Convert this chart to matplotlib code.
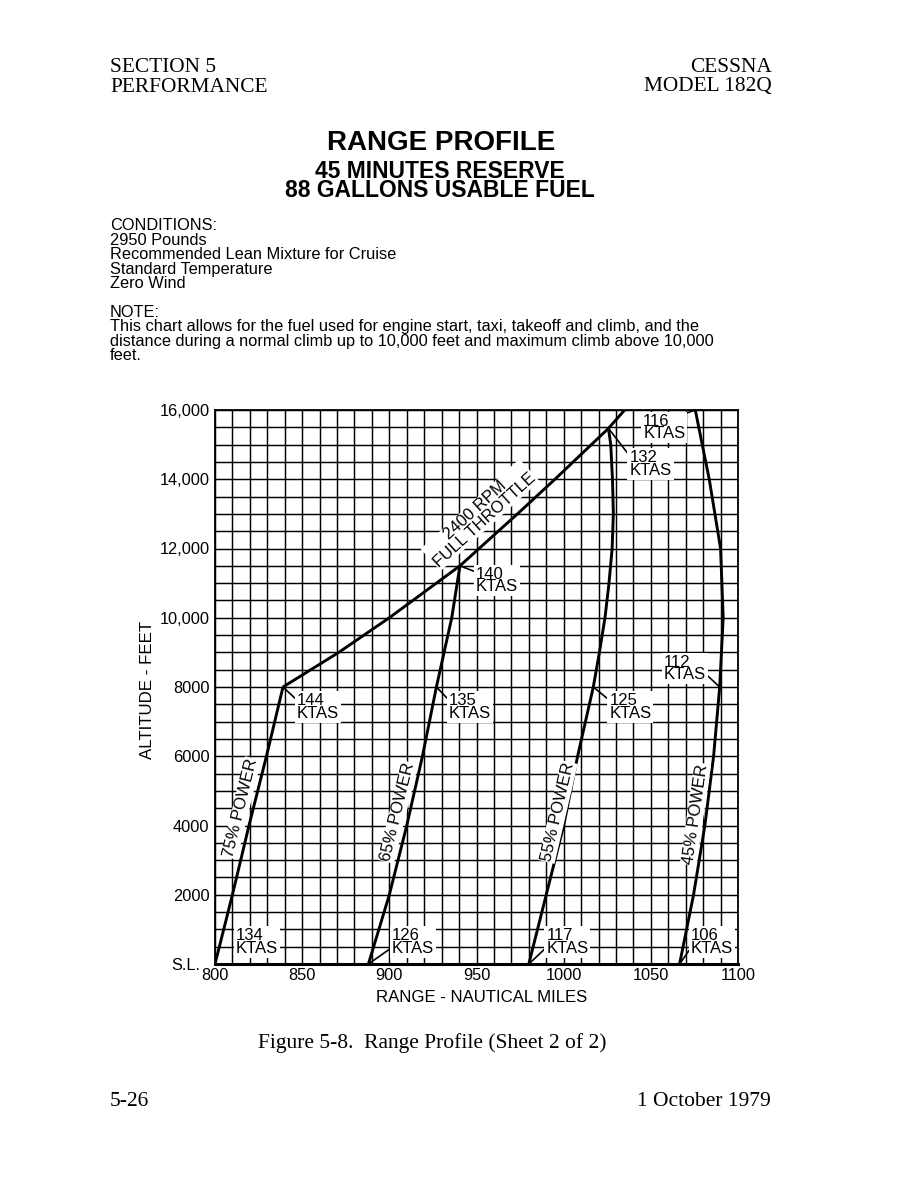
import numpy as np
import matplotlib
matplotlib.use("Agg")
import matplotlib.pyplot as plt

plt.rcParams['font.family'] = ['Liberation Sans', 'DejaVu Sans']

W, H = 918, 1188

# ---------------- data (range in nautical miles, altitude in feet) ----------------
alt_75 = [0, 2000, 4000, 6000, 8000]
rng_75 = [800, 810, 819.5, 829.5, 839]

alt_65 = [0, 2000, 4000, 6000, 8000, 10000, 11500]
rng_65 = [888, 900, 910, 919, 927, 935.8, 940.5]

alt_55 = [0, 2000, 4000, 6000, 8000, 9000, 10000, 11000, 12000, 13000, 14000, 15000, 15470]
rng_55 = [980, 990, 1000, 1008, 1017, 1020.5, 1023.7, 1026, 1027.8, 1028.5, 1028, 1027, 1025.7]

alt_45 = [0, 2000, 4000, 6000, 8000, 10000, 12000, 14000, 16000]
rng_45 = [1066.5, 1074.5, 1081, 1086, 1089.5, 1091.5, 1090, 1083.5, 1075.5]

alt_ft = [8000, 9000, 10000, 11500, 13000, 14000, 15470, 16000]
rng_ft = [839, 871, 900, 940.5, 973.5, 995, 1025.7, 1035]

x_ticks = [800, 850, 900, 950, 1000, 1050, 1100]
x_tick_labels = ['800', '850', '900', '950', '1000', '1050', '1100']
y_ticks = [0, 2000, 4000, 6000, 8000, 10000, 12000, 14000, 16000]
y_tick_labels = ['', '2000', '4000', '6000', '8000', '10,000', '12,000', '14,000', '16,000']

power_labels = ['75% POWER', '65% POWER', '55% POWER', '45% POWER']
ktas_top = ['144', '135', '125', '112']
ktas_sl = ['134', '126', '117', '106']
ktas_climb = ['140', '132', '116']

header_left = ['SECTION 5', 'PERFORMANCE']
header_right = ['CESSNA', 'MODEL 182Q']
title = 'RANGE PROFILE'
subtitles = ['45 MINUTES RESERVE', '88 GALLONS USABLE FUEL']
conditions = ['CONDITIONS:', '2950 Pounds', 'Recommended Lean Mixture for Cruise',
              'Standard Temperature', 'Zero Wind']
note = ['NOTE:',
        'This chart allows for the fuel used for engine start, taxi, takeoff and climb, and the',
        'distance during a normal climb up to 10,000 feet and maximum climb above 10,000',
        'feet.']
caption = 'Figure 5-8.  Range Profile (Sheet 2 of 2)'
page = '5-26'
date = '1 October 1979'

# ---------------- figure ----------------
fig = plt.figure(figsize=(W / 100, H / 100), dpi=100)


def fx(x):
    return x / W


def fy(y):
    return 1 - y / H


serif = ['Liberation Serif', 'DejaVu Serif']
fig.text(fx(110), fy(68), header_left[0], family=serif, fontsize=15.4, va='center')
fig.text(fx(110), fy(87), header_left[1], family=serif, fontsize=15.4, va='center')
fig.text(fx(772), fy(68), header_right[0], family=serif, fontsize=15.4, va='center', ha='right')
fig.text(fx(772), fy(87), header_right[1], family=serif, fontsize=15.4, va='center', ha='right')

fig.text(fx(441), fy(143.5), title, fontsize=20, weight='bold', ha='center', va='center')
fig.text(fx(440), fy(181), '\n'.join(subtitles), fontsize=16.5, weight='bold', ha='center',
         va='center', multialignment='center', linespacing=0.82)

for i, line in enumerate(conditions):
    fig.text(fx(110), fy(226 + i * 14.4), line, fontsize=11.8, va='center')
for i, line in enumerate(note):
    fig.text(fx(110), fy(312.5 + i * 14.4), line, fontsize=11.8, va='center')

fig.text(fx(258), fy(1043), caption, family=serif, fontsize=15.5, va='center')
fig.text(fx(110), fy(1102), page, family=serif, fontsize=15.5, va='center')
fig.text(fx(771), fy(1102), date, family=serif, fontsize=15.5, va='center', ha='right')

# ---------------- chart ----------------
ax = fig.add_axes([fx(215), fy(964), (738 - 215) / W, (964 - 410) / H])
ax.set_xlim(800, 1100)
ax.set_ylim(0, 16000)
ax.set_xticks(x_ticks)
ax.set_xticklabels(x_tick_labels)
ax.set_xticks(np.arange(800, 1101, 10), minor=True)
ax.set_yticks(y_ticks)
ax.set_yticklabels(y_tick_labels)
ax.set_yticks(np.arange(0, 16001, 500), minor=True)
ax.set_axisbelow(True)
ax.grid(which='both', color='black', lw=1.05)
ax.tick_params(which='both', length=0, labelsize=11.8)
ax.tick_params(axis='x', pad=3)
ax.tick_params(axis='y', pad=4)
for s in ['top', 'right', 'left']:
    ax.spines[s].set_linewidth(1.3)
ax.spines['bottom'].set_linewidth(2.2)

fig.text(fx(200), fy(966), 'S.L.', fontsize=11.8, ha='right', va='center')
fig.text(fx(482), fy(998), 'RANGE - NAUTICAL MILES', fontsize=12.1, ha='center', va='center')
fig.text(fx(148), fy(690), 'ALTITUDE - FEET', fontsize=12.2, ha='center', va='center', rotation=90)

curves = [(rng_75, alt_75), (rng_65, alt_65), (rng_55, alt_55), (rng_45, alt_45), (rng_ft, alt_ft)]
for r, a in curves:
    ax.plot(r, a, color='black', lw=2.1, solid_capstyle='butt', solid_joinstyle='round', zorder=3)

box = dict(boxstyle='square,pad=0.12', fc='white', ec='none')
rbox = dict(boxstyle='square,pad=0.05', fc='white', ec='none')
PX = 0.72  # points per pixel


def label(txt, xy, off, ha='left', relpos=None):
    kw = dict(textcoords='offset points', ha=ha, va='center', multialignment='left',
              fontsize=12, linespacing=0.8, bbox=box, zorder=5)
    if relpos is not None:
        kw['arrowprops'] = dict(arrowstyle='-', lw=1.2, color='black', shrinkA=0, shrinkB=0,
                                relpos=relpos)
    ax.annotate(txt + '\nKTAS', xy=xy, xytext=(off[0] * PX, off[1] * PX), **kw)


# 8000 ft labels
label(ktas_top[0], (rng_75[-1], alt_75[-1]), (14, -20), relpos=(0, 0.75))
label(ktas_top[1], (rng_65[4], alt_65[4]), (12.5, -20), relpos=(0, 0.75))
label(ktas_top[2], (rng_55[4], alt_55[4]), (16, -20), relpos=(0, 0.75))
label(ktas_top[3], (rng_45[4], alt_45[4]), (-14, 18.5), ha='right', relpos=(1, 0.3))
# climb junction labels
label(ktas_climb[0], (rng_65[-1], alt_65[-1]), (16, -14.5), relpos=(0, 0.8))
label(ktas_climb[1], (rng_55[-1], alt_55[-1]), (21, -35.5), relpos=(0, 0.8))
label(ktas_climb[2], (rng_45[-1], alt_45[-1]), (-10, -17.5), ha='right', relpos=(0.62, 0.8))
# sea level labels
label(ktas_sl[0], (rng_75[0], alt_75[0]), (21, 22))
label(ktas_sl[1], (rng_65[0], alt_65[0]), (23.5, 22), relpos=(0, 0.3))
label(ktas_sl[2], (rng_55[0], alt_55[0]), (17.5, 22), relpos=(0, 0.3))
label(ktas_sl[3], (rng_45[0], alt_45[0]), (11.5, 22), relpos=(0, 0.3))


def angle_of(r, a, i0, i1):
    p0 = ax.transData.transform((r[i0], a[i0]))
    p1 = ax.transData.transform((r[i1], a[i1]))
    return np.degrees(np.arctan2(p1[1] - p0[1], p1[0] - p0[0]))


# power labels, centered (in pixels) left of each line
power_pos = [(241, 808), (398, 812), (558, 812), (695.5, 814)]
power_seg = [(rng_75, alt_75, 0, 4), (rng_65, alt_65, 0, 4), (rng_55, alt_55, 0, 4), (rng_45, alt_45, 1, 3)]
for txt, (px, py), (r, a, i0, i1) in zip(power_labels, power_pos, power_seg):
    ang = angle_of(r, a, i0, i1)
    fig.text(fx(px), fy(py), txt, fontsize=12, ha='center', va='center', rotation=ang,
             rotation_mode='anchor', bbox=rbox, zorder=5)

ang_ft = angle_of(rng_ft, alt_ft, 3, 5)
fig.text(fx(480), fy(515), '2400 RPM\nFULL THROTTLE', fontsize=12, ha='center', va='center',
         multialignment='center', linespacing=0.85, rotation=ang_ft, rotation_mode='anchor',
         bbox=rbox, zorder=5)

fig.savefig('out.png', dpi=100)
